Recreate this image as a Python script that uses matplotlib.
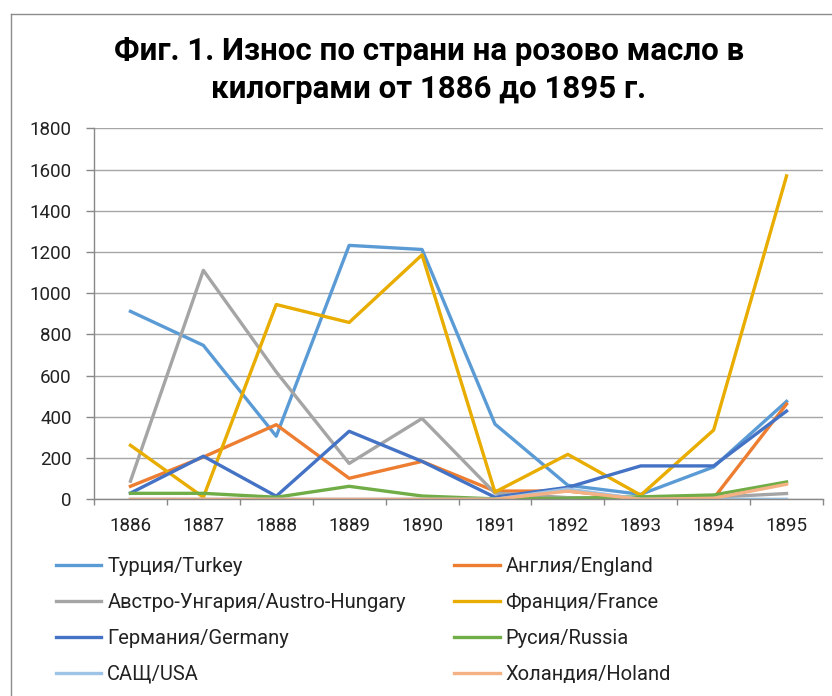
import matplotlib
matplotlib.use("Agg")
import matplotlib.pyplot as plt
from matplotlib.lines import Line2D

plt.rcParams['font.family'] = ['Roboto', 'DejaVu Sans']

years = ['1886', '1887', '1888', '1889', '1890', '1891', '1892', '1893', '1894', '1895']

turkey = [912, 747, 306, 1232, 1212, 365, 68, 24, 157, 475]
england = [63, 205, 362, 102, 184, 40, 40, 2, 5, 462]
austria = [88, 1111, 618, 174, 392, 30, 8, 5, 10, 28]
france = [262, 10, 945, 858, 1186, 35, 218, 20, 336, 1569]
germany = [30, 209, 15, 330, 184, 10, 58, 162, 162, 428]
russia = [29, 29, 10, 63, 16, 2, 5, 12, 21, 84]
usa = [0, 0, 0, 0, 0, 0, 50, 0, 0, 0]
holland = [0, 0, 0, 0, 0, 0, 40, 0, 5, 73]

series = [
    ('Турция/Turkey', turkey, '#5B9BD5'),
    ('Англия/England', england, '#ED7D31'),
    ('Австро-Унгария/Austro-Hungary', austria, '#A5A5A5'),
    ('Франция/France', france, '#E8AD00'),
    ('Германия/Germany', germany, '#4472C4'),
    ('Русия/Russia', russia, '#70AD47'),
    ('САЩ/USA', usa, '#9DC3E6'),
    ('Холандия/Holand', holland, '#F4B183'),
]

fig = plt.figure(figsize=(8.32, 6.96), dpi=100)
ax = fig.add_axes([94 / 832, 1 - 499.3 / 696, 729 / 832, 371 / 696])

x = list(range(len(years)))
handles = []
for label, vals, color in series:
    h, = ax.plot(x, vals, color=color, lw=2.4, label=label, solid_joinstyle='round')
    handles.append(h)

ax.set_xlim(-0.5, len(years) - 0.5)
ax.set_ylim(0, 1800)
ax.set_yticks(range(0, 1801, 200))
ax.set_xticks(x)
ax.set_xticklabels(years)
ax.set_xticks([i - 0.5 for i in range(len(years) + 1)], minor=True)
ax.tick_params(axis='x', which='major', length=0, pad=13, labelsize=13.5, labelcolor='#222222')
ax.tick_params(axis='x', which='minor', length=4, color='#888888', width=1)
ax.tick_params(axis='y', length=6, color='#888888', width=1, pad=10, labelsize=13.5, labelcolor='#222222')
ax.grid(axis='y', color='#A6A6A6', lw=1)
ax.set_axisbelow(True)
for s in ['top', 'right']:
    ax.spines[s].set_visible(False)
for s in ['left', 'bottom']:
    ax.spines[s].set_color('#888888')
    ax.spines[s].set_linewidth(1)

fig.text(429 / 832, 1 - 51 / 696, 'Фиг. 1. Износ по страни на розово масло в',
         ha='center', va='center', fontsize=22.5, fontweight='bold')
fig.text(429 / 832, 1 - 89 / 696, 'килограми от 1886 до 1895 г.',
         ha='center', va='center', fontsize=22.5, fontweight='bold')

order = handles[0::2] + handles[1::2]
fig.legend(handles=order, labels=[h.get_label() for h in order], ncol=2,
           loc='upper left', bbox_to_anchor=(56 / 832, 1 - 557 / 696),
           borderaxespad=0, borderpad=0,
           frameon=False, fontsize=14.5, handlelength=2.25, handletextpad=0.3,
           columnspacing=2.4, labelspacing=0.84, labelcolor='#222222')

# chart border
fig.add_artist(Line2D([11 / 832, 11 / 832], [0, 1 - 14 / 696], color='#8C8C8C', lw=1,
                      transform=fig.transFigure))
fig.add_artist(Line2D([11 / 832, 1], [1 - 14 / 696, 1 - 14 / 696], color='#8C8C8C', lw=1,
                      transform=fig.transFigure))

fig.savefig('out.png', dpi=100)
